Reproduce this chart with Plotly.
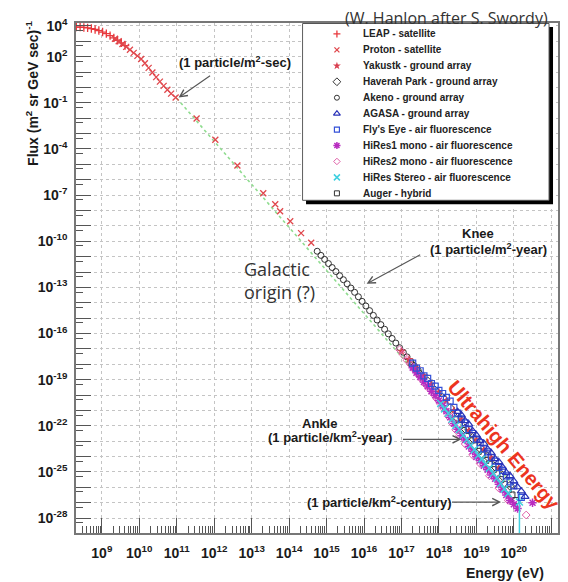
import plotly.graph_objects as go

# ------------------------------------------------------------------
# Data: log10(Energy / eV) and log10(Flux)
# ------------------------------------------------------------------
LEAP_LOGE = [8.32, 8.42, 8.52, 8.62, 8.72, 8.82, 8.92, 9.02, 9.12, 9.22, 9.32, 9.42, 9.52, 9.62]
LEAP_LOGF = [3.92, 3.92, 3.90, 3.87, 3.83, 3.77, 3.70, 3.60, 3.50, 3.37, 3.22, 3.07, 2.90, 2.72]

PROTON_LOGE = [9.35, 9.45, 9.55, 9.65, 9.75, 9.85, 9.95, 10.05, 10.15, 10.25, 10.35, 10.45, 10.55,
               10.65, 10.75, 10.85, 10.97, 11.53, 12.03, 12.62, 13.31, 13.63, 13.76, 14.03, 14.32, 14.59]
PROTON_LOGF = [3.17, 3.00, 2.83, 2.64, 2.45, 2.25, 2.05, 1.85, 1.57, 1.27, 0.97, 0.67, 0.38,
               0.10, -0.15, -0.40, -0.65, -2.02, -3.40, -5.07, -6.88, -7.60, -8.05, -8.70, -9.47, -10.10]

YAKUTSK_LOGE = [17.0, 17.2, 17.4, 17.6, 17.8, 18.0, 18.2, 18.4, 18.6, 18.8, 19.0, 19.2, 19.4, 19.6]
YAKUTSK_LOGF = [-17.15, -17.69, -18.25, -18.75, -19.30, -19.80, -20.35, -21.00, -21.60, -22.30,
                -22.92, -23.55, -24.10, -24.75]

HAVERAH_LOGE = [17.3, 17.5, 17.7, 17.9, 18.1, 18.3, 18.5, 18.7, 18.9, 19.1, 19.3, 19.5, 19.7, 19.9]
HAVERAH_LOGF = [-18.07, -18.67, -19.12, -19.72, -20.20, -20.85, -21.48, -22.18, -22.80, -23.46,
                -24.00, -24.65, -25.25, -25.90]

AKENO_LOGE = [14.75, 14.85, 14.95, 15.05, 15.15, 15.25, 15.35, 15.45, 15.55, 15.65, 15.75, 15.85,
              15.95, 16.05, 16.15, 16.25, 16.35, 16.45, 16.55, 16.65, 16.75, 16.85, 16.95, 17.05,
              17.15, 17.25, 17.35, 17.45]
AKENO_LOGF = [-10.65, -10.92, -11.18, -11.45, -11.71, -11.97, -12.24, -12.50, -12.77, -13.04,
              -13.32, -13.61, -13.91, -14.21, -14.51, -14.82, -15.12, -15.42, -15.72, -16.02,
              -16.32, -16.62, -16.92, -17.22, -17.52, -17.82, -18.12, -18.42]

AGASA_LOGE = [18.5, 18.6, 18.7, 18.8, 18.9, 19.0, 19.1, 19.2, 19.3, 19.4, 19.5, 19.6, 19.7,
              19.8, 19.9, 20.0, 20.1, 20.2, 20.3]
AGASA_LOGF = [-21.08, -21.30, -21.68, -21.90, -22.33, -22.60, -22.96, -23.15, -23.52, -23.77,
              -24.15, -24.35, -24.70, -25.05, -25.25, -25.60, -25.98, -26.25, -26.60]

FLYSEYE_LOGE = [17.3, 17.4, 17.5, 17.6, 17.7, 17.8, 17.9, 18.0, 18.1, 18.2, 18.3, 18.4, 18.5, 18.6,
                18.7, 18.8, 18.9, 19.0, 19.1, 19.2, 19.3, 19.4, 19.5, 19.6, 19.7, 19.8, 19.9, 20.0, 20.2]
FLYSEYE_LOGF = [-17.92, -18.25, -18.42, -18.75, -18.92, -19.25, -19.42, -19.70, -19.90, -20.15,
                -20.40, -20.80, -21.18, -21.55, -21.81, -22.25, -22.50, -22.87, -23.09, -23.50,
                -23.70, -24.05, -24.30, -24.70, -24.90, -25.25, -25.65, -25.90, -26.65]

HIRES1_LOGE = [17.3, 17.4, 17.5, 17.6, 17.7, 17.8, 17.9, 18.0, 18.1, 18.2, 18.3, 18.4, 18.5, 18.6,
               18.7, 18.8, 18.9, 19.0, 19.1, 19.2, 19.3, 19.4, 19.5, 19.6, 19.7, 19.8, 19.9, 20.0,
               20.1, 20.5]
HIRES1_LOGF = [-18.22, -18.55, -18.82, -19.15, -19.42, -19.75, -20.02, -20.35, -20.70, -21.05,
               -21.45, -21.85, -22.23, -22.65, -22.93, -23.35, -23.65, -24.02, -24.26, -24.60,
               -24.85, -25.20, -25.45, -25.80, -26.15, -26.50, -26.85, -27.10, -27.38, -27.00]

HIRES2_LOGE = [16.95, 17.05, 17.15, 17.25, 17.35, 17.45, 17.55, 17.65, 17.75, 17.85, 17.95, 18.05,
               18.15, 18.25, 18.35, 18.45, 18.55, 18.70, 18.90, 19.10, 19.35, 19.60, 19.85, 20.33]
HIRES2_LOGF = [-17.05, -17.40, -17.75, -18.03, -18.36, -18.68, -19.01, -19.33, -19.61, -19.93,
               -20.26, -20.60, -20.95, -21.38, -21.82, -22.26, -22.64, -23.18, -23.90, -24.46,
               -25.25, -26.05, -26.85, -27.80]

STEREO_LOGE = [18.05, 18.15, 18.25, 18.35, 18.45, 18.55, 18.65, 18.75, 18.85, 18.95, 19.05, 19.15,
               19.25, 19.35, 19.45, 19.55, 19.65, 19.75, 19.85, 20.15]
STEREO_LOGF = [-20.55, -20.90, -21.18, -21.57, -21.96, -22.24, -22.61, -22.89, -23.27, -23.55,
               -23.91, -24.15, -24.50, -24.75, -25.10, -25.40, -25.75, -26.10, -26.40, -26.95]
STEREO_ERR_UP_LOGF = -26.30   # upper end of the error bar on the last stereo point
STEREO_ERR_LO_LOGF = -30.00   # lower end (runs off the bottom of the plot)

AUGER_LOGE = [18.45, 18.55, 18.65, 18.75, 18.85, 18.95, 19.05, 19.15, 19.25, 19.35, 19.45, 19.55,
              19.65, 19.75, 19.85, 19.95, 20.05]
AUGER_LOGF = [-21.61, -21.99, -22.31, -22.69, -22.97, -23.30, -23.66, -23.90, -24.25, -24.50,
              -24.85, -25.10, -25.50, -25.80, -26.15, -26.50, -26.86]

# E^-2.7 style reference line (green dotted)
REFLINE_LOGE = [11.0, 20.0]
REFLINE_LOGF = [-0.70, -25.90]

X_TICK_EXP = list(range(9, 22))
X_LABEL_EXP = list(range(9, 21))
Y_TICK_EXP = list(range(-28, 5))
Y_LABEL_EXP = [4, 2, -1, -4, -7, -10, -13, -16, -19, -22, -25, -28]

# ------------------------------------------------------------------
EXPERIMENTS = [
    dict(name="LEAP - satellite", x=LEAP_LOGE, y=LEAP_LOGF, symbol="cross-thin", color="#e8383d", size=6, lw=1.3),
    dict(name="Proton - satellite", x=PROTON_LOGE, y=PROTON_LOGF, symbol="x-thin", color="#e0474c", size=6, lw=1.3),
    dict(name="Yakustk - ground array", x=YAKUTSK_LOGE, y=YAKUTSK_LOGF, symbol="star", color="#d94050", size=7, lw=0),
    dict(name="Haverah Park - ground array", x=HAVERAH_LOGE, y=HAVERAH_LOGF, symbol="diamond-open", color="#333333", size=7, lw=1),
    dict(name="Akeno - ground array", x=AKENO_LOGE, y=AKENO_LOGF, symbol="circle-open", color="#333333", size=6, lw=1),
    dict(name="AGASA - ground array", x=AGASA_LOGE, y=AGASA_LOGF, symbol="triangle-up-open", color="#2a33b8", size=7, lw=1.2),
    dict(name="Fly's Eye - air fluorescence", x=FLYSEYE_LOGE, y=FLYSEYE_LOGF, symbol="square-open", color="#3350d8", size=6, lw=1.2),
    dict(name="HiRes1 mono - air fluorescence", x=HIRES1_LOGE, y=HIRES1_LOGF, symbol="asterisk-open", color="#b82cc0", size=7, lw=1.5),
    dict(name="HiRes2 mono - air fluorescence", x=HIRES2_LOGE, y=HIRES2_LOGF, symbol="diamond-open", color="#e060a8", size=6, lw=1),
    dict(name="HiRes Stereo - air fluorescence", x=STEREO_LOGE, y=STEREO_LOGF, symbol="x-thin-open", color="#3fd0e0", size=7, lw=1.5),
    dict(name="Auger - hybrid", x=AUGER_LOGE, y=AUGER_LOGF, symbol="square-open", color="#333333", size=6, lw=1),
]
DRAW_ORDER = [4, 3, 2, 10, 8, 7, 9, 6, 5, 0, 1]

FONT = "Liberation Sans, Arial, sans-serif"

fig = go.Figure()

fig.add_trace(go.Scatter(
    x=[10.0 ** v for v in REFLINE_LOGE], y=[10.0 ** v for v in REFLINE_LOGF],
    mode="lines", line=dict(color="#8fdc8f", width=1.6, dash="dot"), hoverinfo="skip"))

for i in DRAW_ORDER:
    ex = EXPERIMENTS[i]
    kw = {}
    if ex["name"].startswith("HiRes Stereo"):
        n = len(ex["x"])
        last = 10.0 ** ex["y"][-1]
        kw["error_y"] = dict(type="data", symmetric=False,
                             array=[0.0] * (n - 1) + [10.0 ** STEREO_ERR_UP_LOGF - last],
                             arrayminus=[0.0] * (n - 1) + [last - 10.0 ** STEREO_ERR_LO_LOGF],
                             color=ex["color"], thickness=1.5, width=0)
    fig.add_trace(go.Scatter(
        x=[10.0 ** v for v in ex["x"]], y=[10.0 ** v for v in ex["y"]], mode="markers",
        name=ex["name"],
        marker=dict(symbol=ex["symbol"], size=ex["size"], color=ex["color"],
                    line=dict(color=ex["color"], width=ex["lw"])),
        hoverinfo="skip", **kw))

# ---------------- legend (drawn in its own small frame) ----------------
KEY_X, TEXT_X, ROW0, ROW_STEP = 35, 59, 11, 16
for i, ex in enumerate(EXPERIMENTS):
    fig.add_trace(go.Scatter(
        x=[KEY_X], y=[ROW0 + ROW_STEP * i], xaxis="x2", yaxis="y2", mode="markers",
        marker=dict(symbol=ex["symbol"], size=ex["size"] - 1, color=ex["color"],
                    line=dict(color=ex["color"], width=ex["lw"])),
        hoverinfo="skip", showlegend=False))

annotations = []
for i, ex in enumerate(EXPERIMENTS):
    annotations.append(dict(xref="x2", yref="y2", x=TEXT_X, y=ROW0 + ROW_STEP * i, text=ex["name"],
                            showarrow=False, xanchor="left", yanchor="middle",
                            font=dict(family=FONT, size=10, color="#222", weight="bold")))

shapes = [
    dict(type="rect", xref="x2", yref="y2", x0=4, x1=252, y0=4, y1=182, fillcolor="black",
         line=dict(width=0), layer="between"),
    dict(type="rect", xref="x2", yref="y2", x0=0.5, x1=248, y0=0.5, y1=178, fillcolor="white",
         line=dict(color="#555", width=1), layer="between"),
]

# ---------------- text labels and arrows (log10 data coordinates) ----------------
LBL = dict(family=FONT, size=13, color="#1a1a1a", weight="bold")
ARW = dict(showarrow=True, arrowhead=5, arrowsize=1.3, arrowwidth=1.1, arrowcolor="#555",
           axref="x", ayref="y", text="", standoff=0)

annotations += [
    dict(x=12.56, y=1.67, text="(1 particle/m<sup>2</sup>-sec)", showarrow=False, font=LBL),
    dict(x=11.05, y=-0.66, ax=11.93, ay=0.83, **ARW),
    dict(x=19.05, y=-9.47, text="Knee", showarrow=False, font=LBL),
    dict(x=19.32, y=-10.51, text="(1 particle/m<sup>2</sup>-year)", showarrow=False, font=LBL),
    dict(x=16.07, y=-12.77, ax=17.54, ay=-10.83, **ARW),
    dict(x=12.75, y=-12.55, text="Galactic<br>origin (?)", showarrow=False, xanchor="left",
         yanchor="middle", align="left",
         font=dict(family="Open Sans, sans-serif", size=18, color="#333")),
    dict(x=14.82, y=-21.84, text="Ankle", showarrow=False, font=LBL),
    dict(x=15.09, y=-22.75, text="(1 particle/km<sup>2</sup>-year)", showarrow=False, font=LBL),
    dict(x=18.60, y=-22.88, ax=17.00, ay=-22.88, **ARW),
    dict(x=16.42, y=-26.96, text="(1 particle/km<sup>2</sup>-century)", showarrow=False, font=LBL),
    dict(x=19.66, y=-26.96, ax=18.31, ay=-26.96, **ARW),
    dict(x=19.73, y=-23.25, text="Ultrahigh Energy", showarrow=False, textangle=50,
         font=dict(family=FONT, size=20, color="#ec3420", weight="bold")),
    dict(xref="paper", yref="paper", x=0.7686, y=1.0098, xanchor="center", yanchor="middle",
         text="(W. Hanlon after S. Swordy)", showarrow=False,
         font=dict(family="Open Sans, sans-serif", size=16, color="#333")),
    dict(xref="paper", yref="paper", x=0.9752, y=-0.0781, text="Energy (eV)", showarrow=False,
         xanchor="right", yanchor="middle", font=dict(family=FONT, size=14, color="#1a1a1a", weight="bold")),
    dict(xref="paper", yref="paper", x=-0.0909, y=0.8613, xanchor="center", yanchor="middle",
         text="Flux (m<sup>2</sup> sr GeV sec)<sup>-1</sup>",
         showarrow=False, textangle=-90, font=dict(family=FONT, size=14, color="#1a1a1a", weight="bold")),
]

TICKFONT = dict(family=FONT, size=14, color="#1a1a1a", weight="bold")
x_minor = [float(m) * 10.0 ** k for k in range(8, 22) for m in range(2, 10)]
y_minor = [5.0 * 10.0 ** k for k in range(-30, 5)]

# the page body adds an 8 px margin, so the figure is 8 px smaller on each side
fig.update_layout(
    width=560, height=574, margin=dict(l=68, r=8, t=13, b=49, pad=0),
    paper_bgcolor="white", plot_bgcolor="white", showlegend=False,
    xaxis=dict(type="log", range=[8.31, 21.18], tickmode="array",
               tickvals=[10.0 ** k for k in X_TICK_EXP],
               ticktext=[f"10<sup>{k}</sup>" if k in X_LABEL_EXP else "" for k in X_TICK_EXP],
               ticks="inside", ticklen=15, tickwidth=1, tickcolor="#555",
               showline=True, linecolor="#777", linewidth=1.5, mirror=True,
               showgrid=True, gridcolor="#c4c4c4", griddash="dot", gridwidth=1,
               zeroline=False, tickfont=TICKFONT, ticklabelstandoff=6,
               minor=dict(tickmode="array", tickvals=x_minor, ticks="inside", ticklen=7,
                          tickcolor="#555", tickwidth=1, showgrid=False)),
    yaxis=dict(type="log", range=[-28.97, 4.19], tickmode="array",
               tickvals=[10.0 ** k for k in Y_TICK_EXP],
               ticktext=[f"10<sup>{k}</sup>" if k in Y_LABEL_EXP else "" for k in Y_TICK_EXP],
               ticks="inside", ticklen=15, tickwidth=1, tickcolor="#555",
               showline=True, linecolor="#777", linewidth=1.5, mirror=True,
               showgrid=True, gridcolor="#c4c4c4", griddash="dot", gridwidth=1,
               zeroline=False, tickfont=TICKFONT, ticklabelstandoff=4,
               minor=dict(tickmode="array", tickvals=y_minor, ticks="inside", ticklen=7,
                          tickcolor="#555", tickwidth=1, showgrid=False)),
    xaxis2=dict(domain=[0.4690, 0.9938], range=[0, 254], visible=False, anchor="y2", fixedrange=True),
    yaxis2=dict(domain=[0.640625, 1.0], range=[184, 0], visible=False, anchor="x2", fixedrange=True),
    annotations=annotations, shapes=shapes,
)

fig.write_html("out.html")
